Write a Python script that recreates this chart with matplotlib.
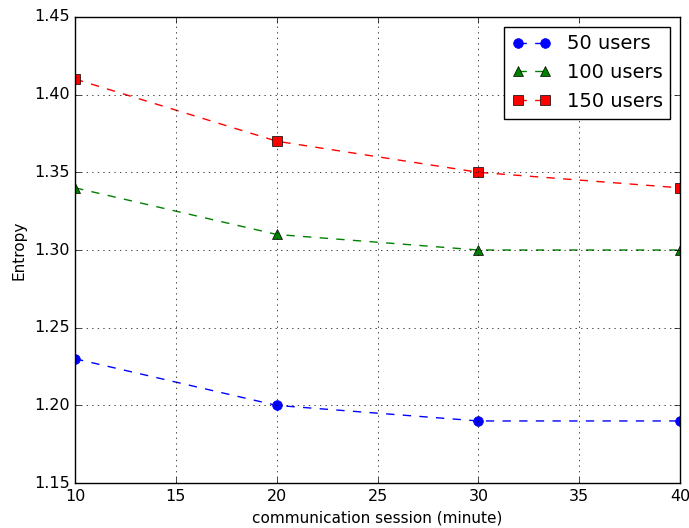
import matplotlib
matplotlib.use("Agg")
import matplotlib.pyplot as plt

# данные
sessions = [10, 20, 30, 40]
users_50 = [1.23, 1.20, 1.19, 1.19]
users_100 = [1.34, 1.31, 1.30, 1.30]
users_150 = [1.41, 1.37, 1.35, 1.34]

plt.style.use('classic')
fig = plt.figure(figsize=(6.89, 5.28), dpi=100)
ax = fig.add_axes([0.109, 0.085, 0.878, 0.883])

for y, fmt, lab, col in [(users_50, 'o', '50 users', 'b'),
                         (users_100, '^', '100 users', 'g'),
                         (users_150, 's', '150 users', 'r')]:
    ax.plot(sessions, y, linestyle='--', marker=fmt, color=col, markersize=7,
            markeredgecolor='k' if fmt != 'o' else col, markeredgewidth=0.5,
            label=lab)

ax.set_xlim(10, 40)
ax.set_ylim(1.15, 1.45)
ax.set_xticks(range(10, 41, 5))
ax.set_yticks([1.15, 1.20, 1.25, 1.30, 1.35, 1.40, 1.45])
ax.set_yticklabels(['%.2f' % v for v in ax.get_yticks()])
ax.tick_params(labelsize=11.5)
ax.grid(True)
ax.set_xlabel('communication session (minute)', fontsize=11)
ax.set_ylabel('Entropy', fontsize=11)
ax.legend(loc='upper right', numpoints=2, fontsize=14)

fig.savefig('out.png', dpi=100)
